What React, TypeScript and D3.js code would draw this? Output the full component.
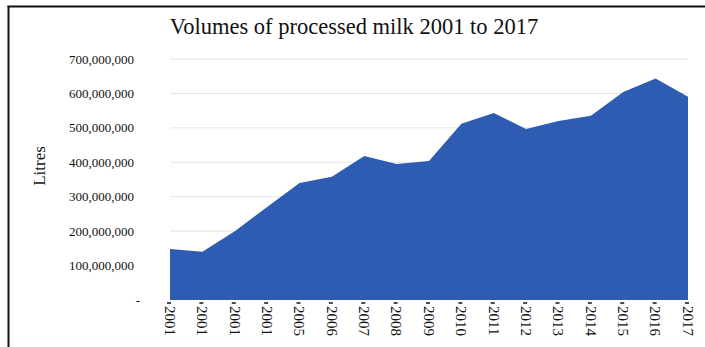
import React from "react";
import * as d3 from "d3";

const categories = ["2001", "2001", "2001", "2001", "2005", "2006", "2007", "2008", "2009", "2010", "2011", "2012", "2013", "2014", "2015", "2016", "2017"];
const volumes = [148e6, 140e6, 200e6, 270e6, 340e6, 358e6, 418e6, 395e6, 404e6, 512e6, 543e6, 497e6, 520e6, 535e6, 604e6, 643e6, 590e6];
const yTicks = [0, 100e6, 200e6, 300e6, 400e6, 500e6, 600e6, 700e6];
const title = "Volumes of processed milk 2001 to 2017";
const yTitle = "Litres";

export default function App() {
  const W = 705, H = 347;
  const idx = categories.map((_, i) => i);
  const x = d3.scalePoint<number>().domain(idx).range([170, 688]);
  const y = d3.scaleLinear().domain([0, 700e6]).range([300, 59]);
  const area = d3.area<number>()
    .x((_, i) => x(i) as number)
    .y0(y(0))
    .y1((d) => y(d));
  const fmt = d3.format(",");
  const font = "'Liberation Serif', 'Times New Roman', serif";
  return (
    <svg width={W} height={H} style={{ position: "absolute", left: 0, top: 0, background: "#fff" }} fontFamily={font}>
      <rect x={0} y={0} width={W} height={H} fill="#fff" />
      <line x1={8.5} y1={6} x2={8.5} y2={H} stroke="#111" strokeWidth={2} />
      <line x1={7.5} y1={6.5} x2={W} y2={6.5} stroke="#111" strokeWidth={2} />
      <text x={354} y={34} textAnchor="middle" fontSize={22.5} fill="#111">{title}</text>
      {yTicks.filter((t) => t > 0).map((t) => (
        <line key={"g" + t} x1={170} x2={688} y1={y(t)} y2={y(t)} stroke="#e4e4e4" strokeWidth={1} />
      ))}
      <path d={area(volumes) || ""} fill="#2d5cb2" />
      {yTicks.map((t) => (
        <text key={"t" + t} x={t === 0 ? 140 : 134} y={y(t)} dy="0.35em" textAnchor="end" fontSize={13} fill="#111">
          {t === 0 ? "-" : fmt(t)}
        </text>
      ))}
      <text transform={`translate(45,166) rotate(-90)`} textAnchor="middle" fontSize={17} fill="#111">{yTitle}</text>
      {categories.map((c, i) => {
        const xi = x(i) as number;
        return (
          <g key={"x" + i}>
            <line x1={xi - 3} x2={xi + 1} y1={303} y2={303} stroke="#111" strokeWidth={1.5} />
            <text transform={`translate(${xi},306) rotate(90)`} dy="0.35em" textAnchor="start" fontSize={15} fill="#111">{c}</text>
          </g>
        );
      })}
    </svg>
  );
}
